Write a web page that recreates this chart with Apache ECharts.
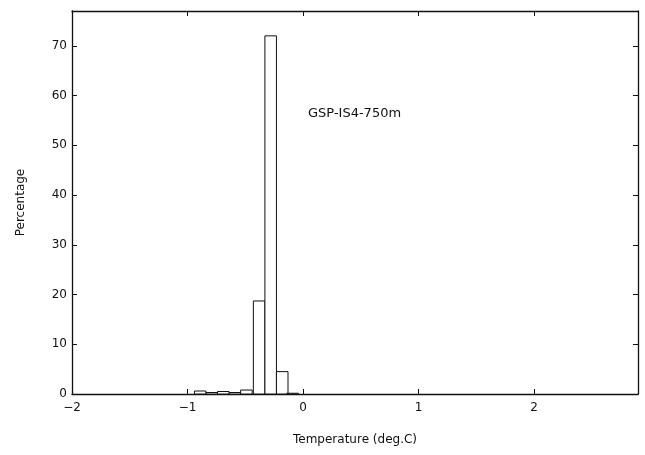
<!DOCTYPE html>
<html>
<head>
<meta charset="utf-8">
<script src="https://cdn.jsdelivr.net/npm/echarts@6/dist/echarts.min.js"></script>
<style>
  html, body { margin: 0; padding: 0; background: #fff; }
  #chart { width: 645px; height: 455px; }
</style>
</head>
<body>
<div id="chart"></div>
<script type="text/javascript">
    // histogram bins (left edge, deg.C), all 0.1 wide
    var binStart = [-0.94, -0.84, -0.74, -0.64, -0.54, -0.43, -0.33, -0.23, -0.14];
    var binWidth = 0.1;
    var percent  = [0.6, 0.3, 0.5, 0.3, 0.8, 18.7, 72, 4.5, 0.15];
    var xTicks = [-2, -1, 0, 1, 2];
    var yTicks = [0, 10, 20, 30, 40, 50, 60, 70];

    var fontFam = 'DejaVu Sans';
    var data = [];
    for (var i = 0; i < binStart.length; i++) {
        data.push([binStart[i], binStart[i] + binWidth, percent[i]]);
    }

    function minus(v) { return String(v).replace('-', '\u2212'); }

    var frameLine = {show: true, onZero: false, lineStyle: {color: '#111', width: 1.3}};
    var inTick = {show: true, inside: true, length: 5, lineStyle: {color: '#111', width: 1}};

    option = {
        animation: false,
        grid: {left: 72, right: 7, top: 11, bottom: 61},
        xAxis: [
            {
                type: 'value', min: -2, max: 2.9, interval: 1,
                axisLine: frameLine, axisTick: inTick, splitLine: {show: false},
                axisLabel: {
                    color: '#111', fontFamily: fontFam, fontSize: 12, margin: 8,
                    formatter: function (v) { return xTicks.indexOf(v) >= 0 ? minus(v) : ''; }
                },
                name: 'Temperature (deg.C)', nameLocation: 'middle', nameGap: 40,
                nameTextStyle: {color: '#111', fontFamily: fontFam, fontSize: 12}
            },
            {
                type: 'value', position: 'top', min: -2, max: 2.9, interval: 1,
                axisLine: frameLine, axisTick: inTick, axisLabel: {show: false}, splitLine: {show: false}
            }
        ],
        yAxis: [
            {
                type: 'value', min: 0, max: 77, interval: 10,
                axisLine: frameLine, axisTick: inTick, splitLine: {show: false},
                axisLabel: {
                    color: '#111', fontFamily: fontFam, fontSize: 12, margin: 5,
                    formatter: function (v) { return yTicks.indexOf(v) >= 0 ? String(v) : ''; }
                },
                name: 'Percentage', nameLocation: 'middle', nameGap: 45,
                nameTextStyle: {color: '#111', fontFamily: fontFam, fontSize: 12}
            },
            {
                type: 'value', position: 'right', min: 0, max: 77, interval: 10,
                axisLine: frameLine, axisTick: inTick, axisLabel: {show: false}, splitLine: {show: false}
            }
        ],
        graphic: [{
            type: 'text', left: 308, top: 107,
            style: {text: 'GSP-IS4-750m', fill: '#111', font: '13px "DejaVu Sans"'}
        }],
        series: [{
            type: 'custom',
            renderItem: function (params, api) {
                var p0 = api.coord([api.value(0), 0]);
                var p1 = api.coord([api.value(1), api.value(2)]);
                return {
                    type: 'rect',
                    shape: {x: p0[0], y: p1[1], width: p1[0] - p0[0], height: p0[1] - p1[1]},
                    style: {fill: '#fff', stroke: '#111', lineWidth: 1}
                };
            },
            encode: {x: [0, 1], y: 2},
            data: data
        }]
    };

    var hist_chart = echarts.init(document.getElementById('chart'));
    hist_chart.setOption(option);
</script>
</body>
</html>
